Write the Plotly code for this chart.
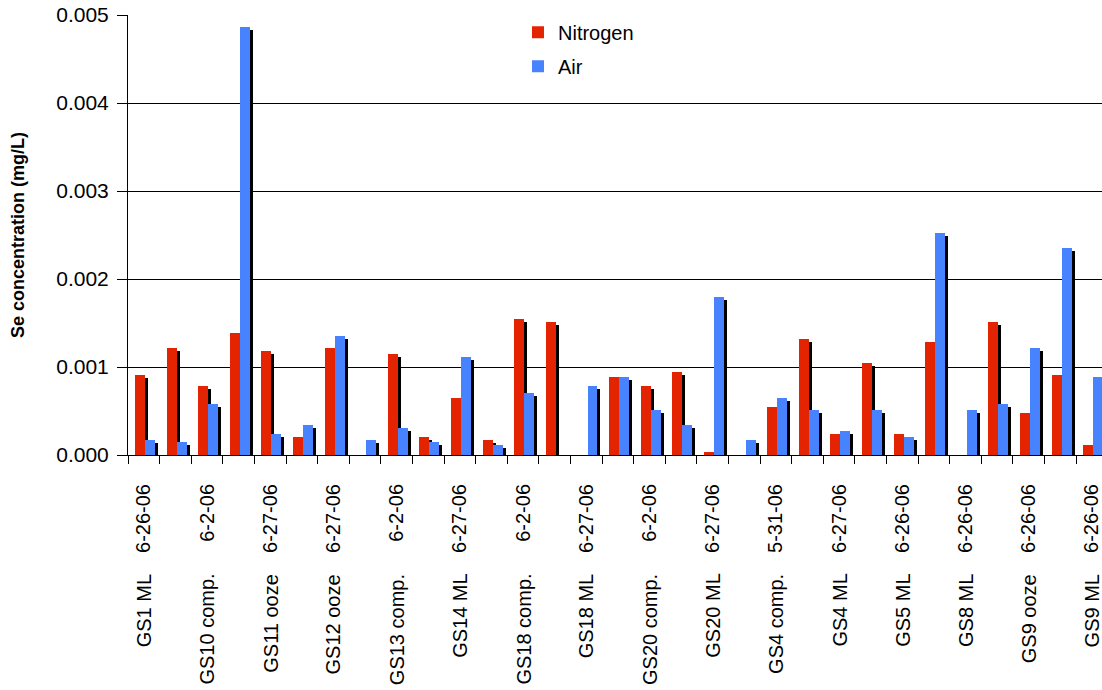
import plotly.graph_objects as go

# labelled samples (every other category carries a label)
samples = ["GS1 ML", "GS10 comp.", "GS11 ooze", "GS12 ooze", "GS13 comp.", "GS14 ML",
           "GS18 comp.", "GS18 ML", "GS20 comp.", "GS20 ML", "GS4 comp.", "GS4 ML",
           "GS5 ML", "GS8 ML", "GS9 ooze", "GS9 ML"]
dates = ["6-26-06", "6-2-06", "6-27-06", "6-27-06", "6-2-06", "6-27-06", "6-2-06", "6-27-06",
         "6-2-06", "6-27-06", "5-31-06", "6-27-06", "6-26-06", "6-26-06", "6-26-06", "6-26-06"]

nitrogen = [0.00091, 0.00122, 0.00078, 0.00139, 0.00118, 0.00020, 0.00122, 0, 0.00115, 0.00020,
            0.00065, 0.00017, 0.00155, 0.00151, 0, 0.00089, 0.00078, 0.00094, 0.00003, 0,
            0.00055, 0.00132, 0.00024, 0.00105, 0.00024, 0.00128, 0, 0.00151, 0.00048, 0.00091,
            0.00011]
air = [0.00017, 0.00015, 0.00058, 0.00486, 0.00024, 0.00034, 0.00135, 0.00017, 0.00031, 0.00015,
       0.00111, 0.00011, 0.00070, 0, 0.00078, 0.00089, 0.00051, 0.00034, 0.00180, 0.00017,
       0.00065, 0.00051, 0.00027, 0.00051, 0.00020, 0.00252, 0.00051, 0.00058, 0.00122, 0.00235,
       0.00089]

RED = "#E42400"
BLUE = "#4783FF"
FONT = "Liberation Sans, Arial, sans-serif"

x = list(range(len(nitrogen)))
lab_pos = x[::2]

# small drop so the black side face starts a bit below the top
drop = 0.000034
W = 0.316
SH = 0.095

fig = go.Figure()
for vals, col, off, name in [(nitrogen, RED, -0.277, "Nitrogen"), (air, BLUE, 0.04, "Air")]:
    fig.add_trace(go.Bar(x=x, y=[max(v - drop, 0) for v in vals], width=W, offset=off + SH,
                         marker=dict(color="black", line=dict(width=0)), showlegend=False,
                         hoverinfo="skip"))
    fig.add_trace(go.Bar(x=x, y=vals, width=W, offset=off, name=name, legendgroup=name,
                         marker=dict(color=col, line=dict(width=0))))

for i, s in zip(lab_pos, samples):
    fig.add_annotation(x=i, y=-0.266, xref="x", yref="paper", text=s, textangle=-90,
                       showarrow=False, xanchor="center", yanchor="top",
                       font=dict(family=FONT, size=20, color="black"))

fig.update_layout(
    width=1102, height=690,
    margin=dict(l=128, r=0, t=15, b=235, autoexpand=False),
    paper_bgcolor="white", plot_bgcolor="white",
    barmode="overlay", bargap=0,
    font=dict(family=FONT, size=20, color="black"),
    legend=dict(x=0.4004, xanchor="left", y=1.005, yanchor="top", bgcolor="white",
                font=dict(size=20), tracegroupgap=5, traceorder="grouped"),
)
fig.update_xaxes(
    range=[-0.5, 30.32], showgrid=False, zeroline=False, automargin=False,
    showline=True, linecolor="black", linewidth=1,
    tickmode="array", tickvals=lab_pos, ticktext=dates, tickangle=-90,
    ticks="", ticklabelstandoff=20, tickfont=dict(size=20), ticklabeloverflow="allow",
    minor=dict(tickmode="linear", tick0=-0.5, dtick=1, ticks="outside", ticklen=8,
               tickcolor="black", showgrid=False),
)
fig.update_yaxes(
    range=[0, 0.005], dtick=0.001, tickformat=".3f",
    showgrid=True, gridcolor="black", gridwidth=1, zeroline=False,
    showline=True, linecolor="black", linewidth=1,
    ticks="outside", ticklen=10, tickcolor="black", tickfont=dict(size=21),
    ticklabelstandoff=4,
    title=dict(text="<b>Se concentration (mg/L)</b>", font=dict(size=18), standoff=26),
    automargin=False,
)

# the page body has a default 8px margin; drop it so the figure sits at the corner
fig.write_html("out.html", config={"displayModeBar": False},
               post_script="document.body.style.margin='0';")
